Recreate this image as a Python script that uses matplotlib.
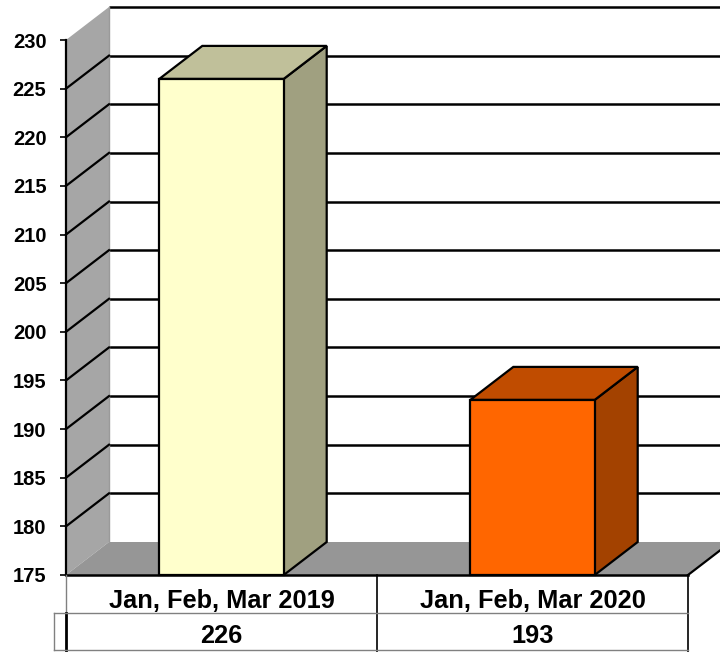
import matplotlib
matplotlib.use("Agg")
import matplotlib.pyplot as plt
from matplotlib.patches import Polygon

categories = ["Jan, Feb, Mar 2019", "Jan, Feb, Mar 2020"]
values = [226, 193]
y_ticks = [175, 180, 185, 190, 195, 200, 205, 210, 215, 220, 225, 230]

front_colors = ["#FFFFCC", "#FF6600"]
top_colors = ["#C0C09A", "#C04C00"]
side_colors = ["#A0A080", "#A34200"]

plt.rcParams['font.family'] = ['Liberation Sans', 'DejaVu Sans']
plt.rcParams['font.weight'] = 'bold'

W, H, DPI = 720, 652, 100
fig = plt.figure(figsize=(W / DPI, H / DPI), dpi=DPI)
fig.patch.set_facecolor("white")

L, R, B, T = 66, 688, 575, 40  # pixel positions of front plane
ax = fig.add_axes([L / W, (H - B) / H, (R - L) / W, (B - T) / H])
ymin, ymax = y_ticks[0], y_ticks[-1]
ax.set_xlim(0, len(categories))
ax.set_ylim(ymin, ymax)
ax.set_facecolor("none")

# depth offset in data units (43 px right, 33 px up)
DX_PX, DY_PX = 43, 33
dx = DX_PX / (R - L) * len(categories)
dy = DY_PX / (B - T) * (ymax - ymin)
xr = len(categories) + 0.3

# gridlines on back wall
for v in y_ticks[1:]:
    ax.plot([0 + dx, xr + dx], [v + dy, v + dy], color="black", lw=1.8,
            clip_on=False, zorder=2, solid_capstyle="butt")
ax.plot([dx, dx], [ymin + dy, ymax + dy], color="#9a9a9a", lw=1.0, clip_on=False, zorder=2)

# side wall
side = Polygon([(0, ymin), (0, ymax), (dx, ymax + dy), (dx, ymin + dy)],
               closed=True, facecolor="#A6A6A6", edgecolor="none", clip_on=False, zorder=1)
ax.add_patch(side)
for v in y_ticks[1:-1]:
    ax.plot([0, dx], [v, v + dy], color="black", lw=1.6, clip_on=False, zorder=2)

# floor
floor = Polygon([(0, ymin), (len(categories), ymin), (len(categories) + dx, ymin + dy),
                 (xr + dx, ymin + dy), (dx, ymin + dy)],
                closed=True, facecolor="#969696", edgecolor="none", clip_on=False, zorder=1)
ax.add_patch(floor)
ax.plot([0, len(categories)], [ymin, ymin], color="black", lw=1.8, clip_on=False, zorder=3)
ax.plot([len(categories), len(categories) + dx], [ymin, ymin + dy], color="black", lw=1.6,
        clip_on=False, zorder=3)

# bars
bw = 0.4
for i, (v, fc, tc, sc) in enumerate(zip(values, front_colors, top_colors, side_colors)):
    x0 = i + 0.5 - bw / 2
    x1 = i + 0.5 + bw / 2
    front = Polygon([(x0, ymin), (x1, ymin), (x1, v), (x0, v)], closed=True,
                    facecolor=fc, edgecolor="black", lw=1.6, clip_on=False, zorder=4)
    top = Polygon([(x0, v), (x1, v), (x1 + dx, v + dy), (x0 + dx, v + dy)], closed=True,
                  facecolor=tc, edgecolor="black", lw=1.6, clip_on=False, zorder=4)
    sidep = Polygon([(x1, ymin), (x1 + dx, ymin + dy), (x1 + dx, v + dy), (x1, v)], closed=True,
                    facecolor=sc, edgecolor="black", lw=1.6, clip_on=False, zorder=4)
    for p in (sidep, top, front):
        ax.add_patch(p)

# axes styling
for s in ["top", "right", "bottom"]:
    ax.spines[s].set_visible(False)
ax.spines["left"].set_color("black")
ax.spines["left"].set_linewidth(1.6)
ax.spines["left"].set_zorder(5)
ax.set_xticks([])
ax.set_yticks(y_ticks)
ax.set_yticklabels([str(t) for t in y_ticks], fontsize=14.5, fontweight="bold")
ax.tick_params(axis="y", length=4.6, width=1.2, color="black", pad=9.5)

# data table
tab = fig.add_axes([0, 0, 1, 1], facecolor="none")
tab.set_xlim(0, W)
tab.set_ylim(H, 0)
tab.axis("off")
mid = 377
row1_top, row1_bot, row2_bot = 575, 613, 650
tab.plot([L, L], [row1_top, row1_bot], color="#808080", lw=1.0)
tab.plot([L, L], [row1_bot, H], color="black", lw=2.0)
tab.plot([mid, mid], [row1_top, H], color="black", lw=1.2)
tab.plot([R, R], [row1_top, H], color="black", lw=1.2)
tab.plot([54, R], [row1_bot, row1_bot], color="#808080", lw=1.0)
tab.plot([54, R], [row2_bot, row2_bot], color="#808080", lw=1.0)
tab.plot([54, 54], [row1_bot, row2_bot], color="#808080", lw=1.0)

cell_edges = [L, mid, R]
for i, (c, v) in enumerate(zip(categories, values)):
    cx = (cell_edges[i] + cell_edges[i + 1]) / 2
    tab.text(cx, 608, c, ha="center", va="baseline",
             fontsize=18.3, fontweight="bold")
    tab.text(cx, 643, str(v), ha="center", va="baseline",
             fontsize=18.3, fontweight="bold")

fig.savefig("out.png", dpi=DPI)
